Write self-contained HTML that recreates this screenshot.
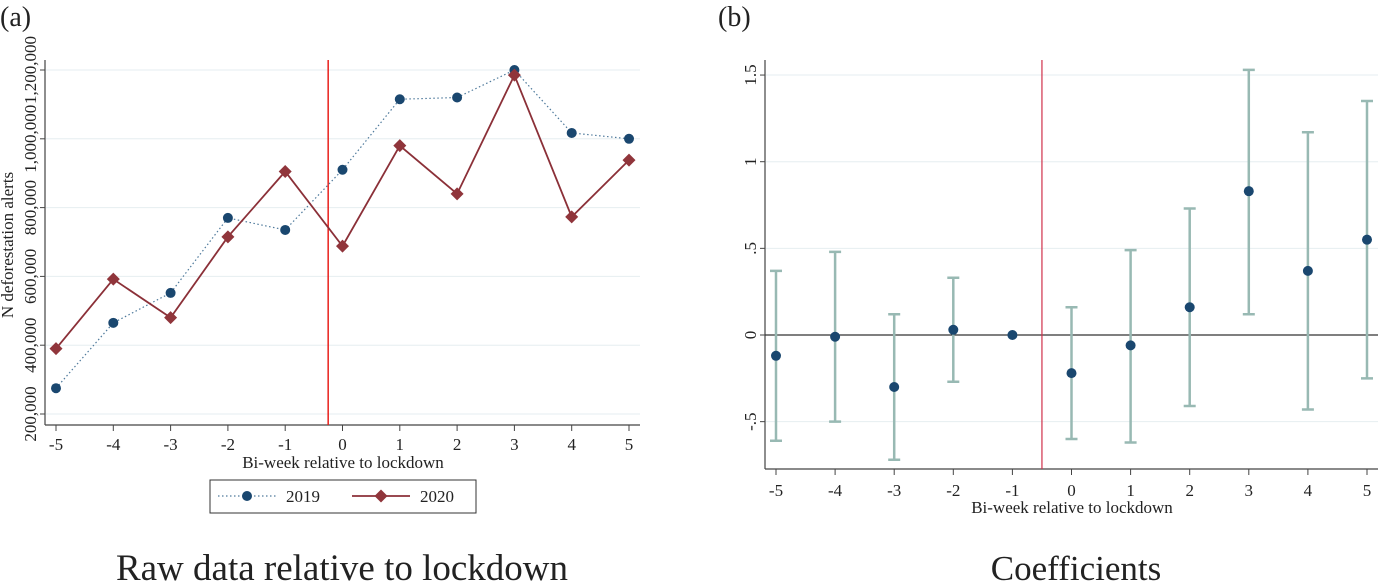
<!DOCTYPE html>
<html><head><meta charset="utf-8"><style>
body{margin:0;background:#fff;font-family:"Liberation Serif",serif;}
svg text{font-family:"Liberation Serif",serif;fill:#222;}
</style></head><body>
<svg id="s" width="1378" height="581">
<text x="0" y="26" font-size="28">(a)</text>
<text x="718" y="26" font-size="28">(b)</text>
<text x="342" y="580" font-size="37" text-anchor="middle">Raw data relative to lockdown</text>
<text x="1076" y="580" font-size="35" text-anchor="middle">Coefficients</text>
<g id="A"></g><g id="B"></g>
</svg>
<script>
const weeks=[-5,-4,-3,-2,-1,0,1,2,3,4,5];
const s2019=[275000,465000,552000,770000,735000,910000,1115000,1120000,1200000,1017000,1000000];
const s2020=[390000,592000,480000,715000,905000,688000,980000,840000,1185000,773000,938000];
const yTicksA=[200000,400000,600000,800000,1000000,1200000];
const yTickLabelsA=["200,000","400,000","600,000","800,000","1,000,000","1,200,000"];
const coefs=[-0.12,-0.01,-0.30,0.03,0,-0.22,-0.06,0.16,0.83,0.37,0.55];
const ciLo=[-0.61,-0.50,-0.72,-0.27,null,-0.60,-0.62,-0.41,0.12,-0.43,-0.25];
const ciHi=[0.37,0.48,0.12,0.33,null,0.16,0.49,0.73,1.53,1.17,1.35];
const yTicksB=[-0.5,0,0.5,1,1.5];
const yTickLabelsB=["-.5","0",".5","1","1.5"];
const NS="http://www.w3.org/2000/svg";
function mk(p,t,a){const e=document.createElementNS(NS,t);for(const k in a)e.setAttribute(k,a[k]);p.appendChild(e);return e;}
// Panel A
const A=document.getElementById('A');
const xA=v=>56+(v+5)*57.3, yA=v=>414-(v-200000)*0.000344;
yTicksA.forEach((t,i)=>{
 let g=mk(A,'line',{x1:46,x2:640,y1:yA(t),y2:yA(t),stroke:'#e6eef0','stroke-width':1});
 
 mk(A,'line',{x1:40,x2:45,y1:yA(t),y2:yA(t),stroke:'#444'});
 let tx=mk(A,'text',{x:0,y:0,'font-size':17,'text-anchor':'middle',transform:`translate(${36},${yA(t)}) rotate(-90)`});
 tx.textContent=yTickLabelsA[i];
 
});
mk(A,'line',{x1:45,x2:45,y1:60,y2:425,stroke:'#444','stroke-width':1.2});
mk(A,'line',{x1:45,x2:640,y1:425,y2:425,stroke:'#444','stroke-width':1.2});
weeks.forEach(w=>{mk(A,'line',{x1:xA(w),x2:xA(w),y1:425,y2:431,stroke:'#444'});
 let t=mk(A,'text',{x:xA(w),y:450,'font-size':17,'text-anchor':'middle'});t.textContent=w;
 });
let xt=mk(A,'text',{x:343,y:468,'font-size':17,'text-anchor':'middle'});xt.textContent='Bi-week relative to lockdown';

let yt=mk(A,'text',{x:0,y:0,'font-size':17,'text-anchor':'middle',transform:'translate(13,245) rotate(-90)'});yt.textContent='N deforestation alerts';

let vl=mk(A,'line',{x1:xA(-0.25),x2:xA(-0.25),y1:60,y2:425,stroke:'#e8201c','stroke-width':1.5});

let l19=mk(A,'polyline',{points:weeks.map((w,i)=>xA(w)+','+yA(s2019[i])).join(' '),fill:'none',stroke:'#4f7a9c','stroke-width':1.2,'stroke-dasharray':'1.5,2.5'});

let l20=mk(A,'polyline',{points:weeks.map((w,i)=>xA(w)+','+yA(s2020[i])).join(' '),fill:'none',stroke:'#8b3038','stroke-width':1.8});

weeks.forEach((w,i)=>{
 let c=mk(A,'circle',{cx:xA(w),cy:yA(s2019[i]),r:5,fill:'#1a476f'});
 
 let x=xA(w),y=yA(s2020[i]);
 let d=mk(A,'polygon',{points:`${x},${y-6.5} ${x+6.5},${y} ${x},${y+6.5} ${x-6.5},${y}`,fill:'#90353b'});
 
});
// legend
let lg=mk(A,'rect',{x:210,y:480,width:266,height:33,fill:'#fff',stroke:'#333','stroke-width':1});

mk(A,'line',{x1:218,x2:276,y1:496,y2:496,stroke:'#4f7a9c','stroke-dasharray':'1.5,2.5','stroke-width':1.2});
mk(A,'circle',{cx:247,cy:496,r:5,fill:'#1a476f'});
let t1=mk(A,'text',{x:286,y:502,'font-size':17});t1.textContent='2019';

mk(A,'line',{x1:352,x2:410,y1:496,y2:496,stroke:'#8b3038','stroke-width':1.8});
mk(A,'polygon',{points:'381,489.5 387.5,496 381,502.5 374.5,496',fill:'#90353b'});
let t2=mk(A,'text',{x:420,y:502,'font-size':17});t2.textContent='2020';

// Panel B
const B=document.getElementById('B');
const xB=v=>776+(v+5)*59.1, yB=v=>335-v*173.3;
yTicksB.forEach((t,i)=>{
 if(t!==0){let g=mk(B,'line',{x1:766,x2:1378,y1:yB(t),y2:yB(t),stroke:'#e6eef0'});
 }
 mk(B,'line',{x1:760,x2:765,y1:yB(t),y2:yB(t),stroke:'#444'});
 let tx=mk(B,'text',{x:0,y:0,'font-size':17,'text-anchor':'middle',transform:`translate(${756},${yB(t)}) rotate(-90)`});
 tx.textContent=yTickLabelsB[i];
 
});
mk(B,'line',{x1:765,x2:765,y1:60,y2:469,stroke:'#444','stroke-width':1.2});
mk(B,'line',{x1:765,x2:1378,y1:469,y2:469,stroke:'#444','stroke-width':1.2});
let zl=mk(B,'line',{x1:765,x2:1378,y1:yB(0),y2:yB(0),stroke:'#333','stroke-width':1.2});

weeks.forEach(w=>{mk(B,'line',{x1:xB(w),x2:xB(w),y1:469,y2:475,stroke:'#444'});
 let t=mk(B,'text',{x:xB(w),y:496,'font-size':17,'text-anchor':'middle'});t.textContent=w;
 });
let xtb=mk(B,'text',{x:1072,y:513,'font-size':17,'text-anchor':'middle'});xtb.textContent='Bi-week relative to lockdown';

let vb=mk(B,'line',{x1:xB(-0.5),x2:xB(-0.5),y1:60,y2:469,stroke:'#d0304a','stroke-width':1.2});

weeks.forEach((w,i)=>{
 const x=xB(w);
 if(ciLo[i]!==null){
  let e=mk(B,'path',{d:`M${x},${yB(ciLo[i])}V${yB(ciHi[i])}M${x-6},${yB(ciLo[i])}H${x+6}M${x-6},${yB(ciHi[i])}H${x+6}`,stroke:'#98b9b3','stroke-width':2.5,fill:'none'});
  
 }
 let c=mk(B,'circle',{cx:x,cy:yB(coefs[i]),r:5,fill:'#1a476f'});
 
});
</script>
</body></html>
